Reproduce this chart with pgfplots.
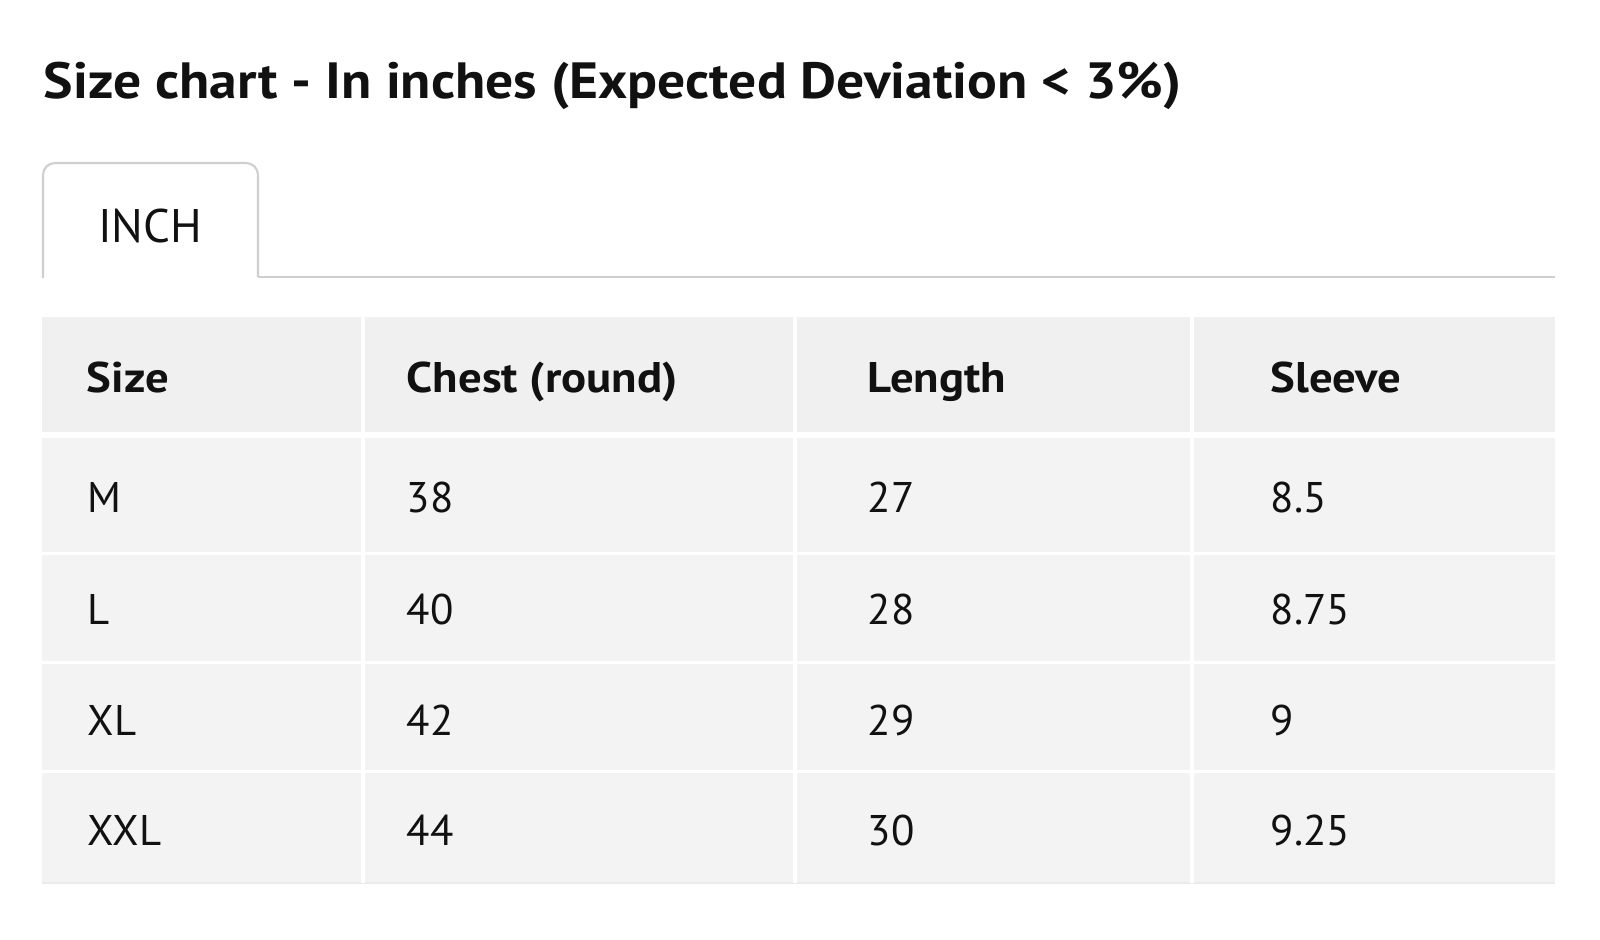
\documentclass[border=0pt]{standalone}
\usepackage{fontspec}
\setmainfont{PT Sans}[BoldFeatures={FakeStretch=1.09}]
\usepackage{pgfplots}
\usepackage{pgfplotstable}
\pgfplotsset{compat=1.18}
\definecolor{cellgray}{HTML}{F3F3F3}
\definecolor{headgray}{HTML}{F0F0F0}
\definecolor{tabgray}{HTML}{CFCFCF}
\definecolor{txt}{HTML}{111111}
\newcommand\titlefont{\fontsize{14.5}{16}\selectfont\bfseries}
\newcommand\inchfont{\fontsize{13.4}{15}\selectfont}
\newcommand\bodyfont{\fontsize{12.2}{14}\selectfont}
\pgfplotstableread{
x y label
86 392 Size
406 392 {Chest (round)}
867 392 Length
1270 392 Sleeve
}\headtab
\pgfplotstableread{
x y label
87 512 M
406 512 38
867 512 27
1270 512 8.5
87 624 L
406 624 40
867 624 28
1270 624 8.75
87 735 XL
406 735 42
867 735 29
1270 735 9
87 846 XXL
406 846 44
867 846 30
1270 846 9.25
}\bodytab
\begin{document}
\begin{tikzpicture}
\begin{axis}[
  scale only axis, width=16cm, height=9.4cm,
  xmin=0, xmax=1600, ymin=0, ymax=940, y dir=reverse,
  hide axis, clip=false,
]
\addplot[fill=white, draw=none] coordinates {(0,0)(1600,0)(1600,940)(0,940)} -- cycle;
% table body
\addplot[fill=cellgray, draw=none] coordinates {(42,317)(1555,317)(1555,883)(42,883)} -- cycle;
\addplot[fill=headgray, draw=none] coordinates {(42,317)(1555,317)(1555,432)(42,432)} -- cycle;
\addplot[draw=black!8, line width=0.3pt] coordinates {(42,883)(1555,883)};
% white separators
\addplot[white, line width=1.7pt] coordinates {(42,435)(1555,435)};
\addplot[white, line width=0.9pt] coordinates {(42,553.5)(1555,553.5)};
\addplot[white, line width=0.9pt] coordinates {(42,662.5)(1555,662.5)};
\addplot[white, line width=0.9pt] coordinates {(42,771.5)(1555,771.5)};
\addplot[white, line width=0.9pt] coordinates {(363,317)(363,883)};
\addplot[white, line width=0.9pt] coordinates {(795,317)(795,883)};
\addplot[white, line width=0.9pt] coordinates {(1192,317)(1192,883)};
% tab
\addplot[tabgray, line width=0.6pt, rounded corners=3.4pt] coordinates {(43,278)(43,163)(258,163)(258,277)};
\addplot[tabgray, line width=0.6pt] coordinates {(258,277)(1555,277)};
% text
\node[anchor=base west, inner sep=0pt, text=txt] at (axis cs:43,98) {\titlefont Size chart - In inches (Expected Deviation < 3\%)};
\node[anchor=base, inner sep=0pt, text=txt] at (axis cs:150,242) {\inchfont INCH};
\addplot[only marks, mark=none, nodes near coords, point meta=explicit symbolic,
  every node near coord/.append style={anchor=base west, inner sep=0pt, text=txt, font=\bodyfont\bfseries}]
  table[x=x, y=y, meta=label] {\headtab};
\addplot[only marks, mark=none, nodes near coords, point meta=explicit symbolic,
  every node near coord/.append style={anchor=base west, inner sep=0pt, text=txt, font=\bodyfont}]
  table[x=x, y=y, meta=label] {\bodytab};
\end{axis}
\pgfresetboundingbox
\path (current axis.south west) rectangle (current axis.north east);
\end{tikzpicture}
\end{document}
